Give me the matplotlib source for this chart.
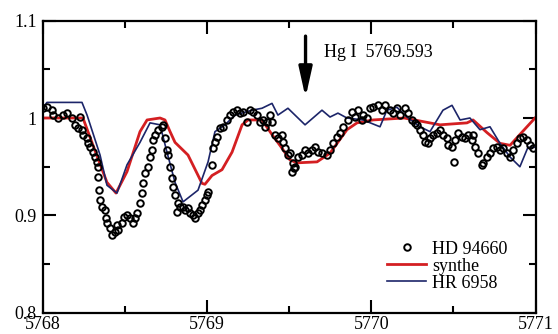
import matplotlib
matplotlib.use("Agg")
import matplotlib.pyplot as plt
from matplotlib.ticker import MultipleLocator, FuncFormatter

plt.rcParams["font.family"] = ["Liberation Serif", "DejaVu Serif"]

# observed HD 94660 (wavelength offset from 5768 A, relative flux)
obs_dx = [0.000, 0.027, 0.058, 0.064, 0.094, 0.125, 0.149, 0.179, 0.198, 0.216,
          0.228, 0.240, 0.246, 0.271, 0.277, 0.289, 0.307, 0.319, 0.332, 0.338,
          0.336, 0.344, 0.350, 0.362, 0.380, 0.386, 0.392, 0.411, 0.423, 0.441,
          0.453, 0.459, 0.484, 0.496, 0.514, 0.532, 0.550, 0.563, 0.575, 0.593,
          0.605, 0.611, 0.623, 0.642, 0.654, 0.666, 0.672, 0.684, 0.703, 0.727,
          0.733, 0.745, 0.757, 0.763, 0.776, 0.788, 0.794, 0.806, 0.818, 0.824,
          0.836, 0.855, 0.867, 0.885, 0.897, 0.915, 0.928, 0.946, 0.958, 0.970,
          0.988, 1.001, 1.007, 1.031, 1.037, 1.049, 1.061, 1.080, 1.098, 1.122,
          1.140, 1.159, 1.183, 1.201, 1.220, 1.244, 1.262, 1.280, 1.305, 1.323,
          1.341, 1.353, 1.366, 1.384, 1.396, 1.414, 1.432, 1.457, 1.463, 1.475,
          1.493, 1.505, 1.518, 1.524, 1.530, 1.536, 1.554, 1.579, 1.597, 1.615,
          1.639, 1.658, 1.676, 1.700, 1.730, 1.749, 1.767, 1.791, 1.810, 1.828,
          1.858, 1.883, 1.901, 1.919, 1.943, 1.950, 1.974, 1.992, 2.010, 2.041,
          2.065, 2.083, 2.114, 2.132, 2.156, 2.175, 2.205, 2.223, 2.248, 2.266,
          2.278, 2.296, 2.315, 2.327, 2.345, 2.357, 2.375, 2.400, 2.418, 2.436,
          2.461, 2.467, 2.491, 2.503, 2.509, 2.528, 2.552, 2.570, 2.588, 2.613,
          2.619, 2.631, 2.649, 2.673, 2.680, 2.704, 2.722, 2.740, 2.764, 2.783,
          2.801, 2.825, 2.844, 2.862, 2.886, 2.904, 2.922, 2.947, 2.965, 2.983]
obs_flux = [1.010, 1.011, 1.008, 1.003, 1.000, 1.003, 1.005, 1.000, 0.993, 0.990,
            1.001, 0.988, 0.983, 0.979, 0.974, 0.970, 0.965, 0.960, 0.955, 0.950,
            0.939, 0.926, 0.916, 0.909, 0.906, 0.897, 0.892, 0.887, 0.880, 0.883,
            0.890, 0.885, 0.892, 0.898, 0.901, 0.897, 0.892, 0.897, 0.903, 0.913,
            0.923, 0.933, 0.944, 0.950, 0.960, 0.967, 0.977, 0.983, 0.988, 0.991,
            0.993, 0.979, 0.967, 0.962, 0.950, 0.938, 0.929, 0.921, 0.904, 0.913,
            0.909, 0.909, 0.906, 0.908, 0.903, 0.901, 0.897, 0.903, 0.906, 0.911,
            0.916, 0.921, 0.924, 0.952, 0.969, 0.975, 0.981, 0.990, 0.991, 0.998,
            1.003, 1.006, 1.008, 1.005, 1.006, 0.996, 1.008, 1.006, 1.003, 0.996,
            0.998, 0.991, 0.996, 1.003, 0.996, 0.983, 0.979, 0.983, 0.975, 0.969,
            0.962, 0.964, 0.945, 0.954, 0.949, 0.950, 0.960, 0.962, 0.967, 0.964,
            0.967, 0.970, 0.965, 0.964, 0.962, 0.967, 0.974, 0.981, 0.985, 0.991,
            0.998, 1.006, 1.001, 1.008, 0.998, 1.003, 1.000, 1.010, 1.011, 1.013,
            1.008, 1.013, 1.008, 1.005, 1.010, 1.003, 1.010, 1.005, 0.998, 0.995,
            0.993, 0.988, 0.983, 0.975, 0.974, 0.979, 0.983, 0.985, 0.988, 0.983,
            0.979, 0.972, 0.970, 0.955, 0.977, 0.985, 0.981, 0.979, 0.983, 0.977,
            0.983, 0.970, 0.964, 0.952, 0.954, 0.960, 0.964, 0.969, 0.970, 0.967,
            0.969, 0.964, 0.960, 0.967, 0.974, 0.979, 0.981, 0.977, 0.972, 0.969]

# synthetic spectrum
syn_dx = [0.000, 0.246, 0.307, 0.392, 0.447, 0.514, 0.593, 0.636, 0.715, 0.745,
          0.776, 0.806, 0.885, 0.970, 0.988, 1.031, 1.092, 1.153, 1.214, 1.250,
          1.335, 1.396, 1.457, 1.505, 1.548, 1.670, 1.749, 1.852, 1.913, 2.010,
          2.200, 2.418, 2.582, 2.619, 2.704, 2.783, 2.844, 2.947, 2.996]
syn_flux = [1.000, 1.000, 0.972, 0.934, 0.923, 0.945, 0.986, 0.998, 1.000, 0.998,
            0.986, 0.975, 0.962, 0.933, 0.932, 0.941, 0.947, 0.965, 0.993, 0.998,
            0.998, 0.983, 0.969, 0.957, 0.954, 0.955, 0.964, 0.988, 0.995, 0.998,
            1.000, 0.993, 0.995, 0.998, 0.985, 0.974, 0.972, 0.991, 1.000]

# comparison star HR 6958
hr_dx = [0.000, 0.027, 0.240, 0.271, 0.350, 0.392, 0.453, 0.514, 0.593, 0.654,
         0.715, 0.757, 0.806, 0.855, 0.946, 1.007, 1.049, 1.110, 1.171, 1.274,
         1.335, 1.396, 1.432, 1.493, 1.597, 1.700, 1.749, 1.797, 1.852, 1.950,
         2.053, 2.095, 2.156, 2.217, 2.296, 2.357, 2.436, 2.491, 2.540, 2.600,
         2.661, 2.722, 2.783, 2.844, 2.904, 2.953, 2.996]
hr_flux = [1.010, 1.016, 1.016, 1.003, 0.962, 0.931, 0.923, 0.952, 0.975, 0.995,
           0.993, 0.965, 0.934, 0.914, 0.926, 0.955, 0.986, 0.993, 1.003, 1.008,
           1.010, 1.015, 1.003, 1.010, 0.993, 1.008, 1.001, 1.005, 1.000, 0.998,
           0.991, 1.008, 1.011, 1.001, 0.991, 0.986, 1.008, 1.013, 0.998, 1.000,
           0.988, 0.991, 0.974, 0.960, 0.950, 0.970, 0.970]

x0 = 5768.0
line_wl = 5769.6
line_label = "Hg I  5769.593"

fig = plt.figure(figsize=(5.58, 3.34), dpi=100)
ax = fig.add_axes([0.0762, 0.0629, 0.8838, 0.8757])

ax.plot([x0 + d for d in obs_dx], obs_flux, "o", mfc="none", mec="black",
        ms=4.7, mew=1.4, label="HD 94660", zorder=3)
ax.plot([x0 + d for d in syn_dx], syn_flux, color="#d41f22", lw=2.0,
        label="synthe", zorder=2)
ax.plot([x0 + d for d in hr_dx], hr_flux, color="#1c2569", lw=1.2,
        label="HR 6958", zorder=2)

# line marker arrow
ax.annotate("", xy=(line_wl, 1.021), xytext=(line_wl, 1.084),
            arrowprops=dict(arrowstyle="-|>,head_length=0.9,head_width=0.2",
                            mutation_scale=20, color="black", lw=2.4,
                            shrinkA=0, shrinkB=0))
ax.text(line_wl + 0.11, 1.067, line_label, fontsize=13, va="center")

ax.set_xlim(5768, 5771)
ax.set_ylim(0.8, 1.1)
ax.xaxis.set_major_locator(MultipleLocator(1))
ax.xaxis.set_minor_locator(MultipleLocator(0.5))
ax.yaxis.set_major_locator(MultipleLocator(0.1))
ax.yaxis.set_minor_locator(MultipleLocator(0.05))
ax.xaxis.set_major_formatter(FuncFormatter(lambda v, p: f"{v:.0f}"))
ax.yaxis.set_major_formatter(FuncFormatter(lambda v, p: "1" if abs(v - 1) < 1e-9 else f"{v:.1f}"))
ax.tick_params(which="both", direction="in", top=True, right=True, width=1.5,
               labelsize=13)
ax.tick_params(which="major", length=9.5)
ax.tick_params(which="minor", length=5)
ax.tick_params(axis="x", pad=2.5)
ax.tick_params(axis="y", pad=4)
for s in ax.spines.values():
    s.set_linewidth(1.6)

ax.legend(loc="lower right", frameon=False, fontsize=13, handlelength=2.2,
          handletextpad=0.3, labelspacing=0.0, borderaxespad=0.3,
          bbox_to_anchor=(0.968, 0.03))

fig.savefig("out.png", dpi=100)
